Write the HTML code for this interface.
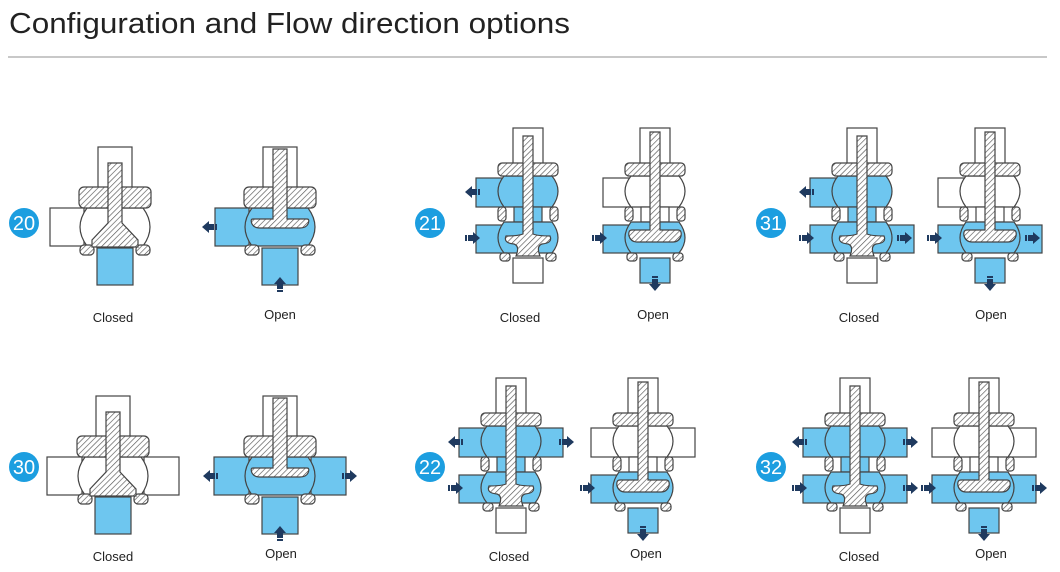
<!DOCTYPE html>
<html><head><meta charset="utf-8"><style>
html,body{margin:0;padding:0;background:#fff;}
svg{display:block;}
.w{fill:#fff;stroke:#444;stroke-width:1.2;}
.b{fill:#6ec6ef;stroke:#444;stroke-width:1.2;}
.h{fill:url(#hat);stroke:#444;stroke-width:1.2;}
.a{fill:#1f3a5f;}
text{font-family:"Liberation Sans",sans-serif;}
</style></head><body>
<svg width="1060" height="572" viewBox="0 0 1060 572" xmlns="http://www.w3.org/2000/svg">
<defs>
<pattern id="hat" width="4" height="4" patternUnits="userSpaceOnUse" patternTransform="rotate(45)">
<rect width="4" height="4" fill="#fff"/><line x1="0" y1="0" x2="0" y2="4" stroke="#555" stroke-width="1.3"/>
</pattern>
<g id="sBody">
<rect class="w" x="-17" y="-80" width="34" height="42"/>
<rect class="h" x="-36" y="-40" width="72" height="21" rx="5"/>
<rect class="h" x="-35" y="18" width="14" height="10" rx="4"/>
<rect class="h" x="21" y="18" width="14" height="10" rx="4"/>
</g>
<path id="sStemC" class="h" d="M-7,-64 h14 V-4 L23,13 v7 h-46 v-7 L-7,-4 Z"/>
<path id="sStemO" class="h" d="M-7,-78 h14 V-8 h20 q3,0 1,5 q-2,4 -8,4 h-40 q-6,0 -8,-4 q-2,-5 1,-5 h20 Z"/>
<g id="dBody">
<rect class="w" x="-15" y="-110" width="30" height="36"/>
<rect class="h" x="-30" y="-75" width="60" height="13" rx="4"/>
<rect class="h" x="-30" y="-31" width="8" height="14" rx="3"/>
<rect class="h" x="22" y="-31" width="8" height="14" rx="3"/>
<rect class="h" x="-28" y="15" width="10" height="8" rx="3"/>
<rect class="h" x="18" y="15" width="10" height="8" rx="3"/>
</g>
<path id="dStemC" class="h" d="M-5,-102 h10 V-4 Q10,-2 22,-2 Q25,5 14,6 Q8,8 12,18 h-24 Q-8,8 -14,6 Q-25,5 -22,-2 Q-10,-2 -5,-4 Z"/>
<path id="dStemO" class="h" d="M-5,-106 h10 V-8 h18 q4,0 3,6 q-2,6 -8,6 h-36 q-6,0 -8,-6 q-1,-6 3,-6 h18 Z"/>
<g id="arr"><polygon class="a" points="0,0 -7,-6 -7,-3 -12,-3 -12,3 -7,3 -7,6"/><rect class="a" x="-15" y="-3" width="2" height="6"/></g>
</defs>

<text x="9" y="33" font-size="29" fill="#222" textLength="561" lengthAdjust="spacingAndGlyphs">Configuration and Flow direction options</text>
<rect x="8" y="56" width="1039" height="2" fill="#c8c8c8"/>

<!-- badges -->
<g font-size="20" fill="#fff" text-anchor="middle">
<circle cx="24" cy="223" r="15" fill="#1c9ee0"/><text x="24" y="230">20</text>
<circle cx="430" cy="223" r="15" fill="#1c9ee0"/><text x="430" y="230">21</text>
<circle cx="771" cy="223" r="15" fill="#1c9ee0"/><text x="771" y="230">31</text>
<circle cx="24" cy="467" r="15" fill="#1c9ee0"/><text x="24" y="474">30</text>
<circle cx="430" cy="467" r="15" fill="#1c9ee0"/><text x="430" y="474">22</text>
<circle cx="771" cy="467" r="15" fill="#1c9ee0"/><text x="771" y="474">32</text>
</g>

<!-- labels -->
<g font-size="13" fill="#222" text-anchor="middle">
<text x="113" y="322">Closed</text><text x="280" y="319">Open</text>
<text x="520" y="322">Closed</text><text x="653" y="319">Open</text>
<text x="859" y="322">Closed</text><text x="991" y="319">Open</text>
<text x="113" y="561">Closed</text><text x="281" y="558">Open</text>
<text x="509" y="561">Closed</text><text x="646" y="558">Open</text>
<text x="859" y="561">Closed</text><text x="991" y="558">Open</text>
</g>

<!-- 20 closed -->
<g transform="translate(115,227)">
<rect class="w" x="-65" y="-19" width="34" height="38"/>
<path class="w" d="M-28,-19 Q-42,0 -28,19 L28,19 Q42,0 28,-19 Z"/>
<rect class="b" x="-18" y="21" width="36" height="37"/>
<use href="#sBody"/><use href="#sStemC"/>
</g>
<!-- 20 open -->
<g transform="translate(280,227)">
<rect class="b" x="-65" y="-19" width="34" height="38"/>
<path class="b" d="M-28,-19 Q-42,0 -28,19 L28,19 Q42,0 28,-19 Z"/>
<rect class="b" x="-18" y="21" width="36" height="37"/>
<use href="#sBody"/><use href="#sStemO"/>
<use href="#arr" transform="translate(-78,0) rotate(180)"/>
<use href="#arr" transform="translate(0,50) rotate(-90)"/>
</g>
<!-- 30 closed -->
<g transform="translate(113,476)">
<rect class="w" x="-66" y="-19" width="35" height="38"/>
<rect class="w" x="31" y="-19" width="35" height="38"/>
<path class="w" d="M-28,-19 Q-42,0 -28,19 L28,19 Q42,0 28,-19 Z"/>
<rect class="b" x="-18" y="21" width="36" height="37"/>
<use href="#sBody"/><use href="#sStemC"/>
</g>
<!-- 30 open -->
<g transform="translate(280,476)">
<rect class="b" x="-66" y="-19" width="35" height="38"/>
<rect class="b" x="31" y="-19" width="35" height="38"/>
<path class="b" d="M-28,-19 Q-42,0 -28,19 L28,19 Q42,0 28,-19 Z"/>
<rect class="b" x="-18" y="21" width="36" height="37"/>
<use href="#sBody"/><use href="#sStemO"/>
<use href="#arr" transform="translate(-77,0) rotate(180)"/>
<use href="#arr" transform="translate(77,0)"/>
<use href="#arr" transform="translate(0,50) rotate(-90)"/>
</g>

<!-- 21 closed -->
<g transform="translate(528,238)">
<rect class="b" x="-52" y="-60" width="28" height="29"/>
<rect class="b" x="-52" y="-13" width="28" height="28"/>
<path class="b" d="M-24,-62 Q-36,-47 -24,-31 L24,-31 Q36,-47 24,-62 Z"/>
<rect class="b" x="-14" y="-31" width="28" height="15"/>
<path class="b" d="M-24,-16 Q-36,0 -24,15 L24,15 Q36,0 24,-16 Z"/>
<rect class="w" x="-15" y="20" width="30" height="25"/>
<use href="#dBody"/><use href="#dStemC"/>
<use href="#arr" transform="translate(-63,-46) rotate(180)"/>
<use href="#arr" transform="translate(-48,0)"/>
</g>
<!-- 21 open -->
<g transform="translate(655,238)">
<rect class="w" x="-52" y="-60" width="28" height="29"/>
<rect class="b" x="-52" y="-13" width="28" height="28"/>
<path class="w" d="M-24,-62 Q-36,-47 -24,-31 L24,-31 Q36,-47 24,-62 Z"/>
<rect class="w" x="-14" y="-31" width="28" height="15"/>
<path class="b" d="M-24,-16 Q-36,0 -24,15 L24,15 Q36,0 24,-16 Z"/>
<rect class="b" x="-15" y="20" width="30" height="25"/>
<use href="#dBody"/><use href="#dStemO"/>
<use href="#arr" transform="translate(-48,0)"/>
<use href="#arr" transform="translate(0,53) rotate(90)"/>
</g>
<!-- 31 closed -->
<g transform="translate(862,238)">
<rect class="b" x="-52" y="-60" width="28" height="29"/>
<rect class="b" x="-52" y="-13" width="28" height="28"/>
<rect class="b" x="24" y="-13" width="28" height="28"/>
<path class="b" d="M-24,-62 Q-36,-47 -24,-31 L24,-31 Q36,-47 24,-62 Z"/>
<rect class="b" x="-14" y="-31" width="28" height="15"/>
<path class="b" d="M-24,-16 Q-36,0 -24,15 L24,15 Q36,0 24,-16 Z"/>
<rect class="w" x="-15" y="20" width="30" height="25"/>
<use href="#dBody"/><use href="#dStemC"/>
<use href="#arr" transform="translate(-63,-46) rotate(180)"/>
<use href="#arr" transform="translate(-48,0)"/>
<use href="#arr" transform="translate(50,0)"/>
</g>
<!-- 31 open -->
<g transform="translate(990,238)">
<rect class="w" x="-52" y="-60" width="28" height="29"/>
<rect class="b" x="-52" y="-13" width="28" height="28"/>
<rect class="b" x="24" y="-13" width="28" height="28"/>
<path class="w" d="M-24,-62 Q-36,-47 -24,-31 L24,-31 Q36,-47 24,-62 Z"/>
<rect class="w" x="-14" y="-31" width="28" height="15"/>
<path class="b" d="M-24,-16 Q-36,0 -24,15 L24,15 Q36,0 24,-16 Z"/>
<rect class="b" x="-15" y="20" width="30" height="25"/>
<use href="#dBody"/><use href="#dStemO"/>
<use href="#arr" transform="translate(-48,0)"/>
<use href="#arr" transform="translate(50,0)"/>
<use href="#arr" transform="translate(0,53) rotate(90)"/>
</g>

<!-- 22 closed -->
<g transform="translate(511,488)">
<rect class="b" x="-52" y="-60" width="28" height="29"/>
<rect class="b" x="24" y="-60" width="28" height="29"/>
<rect class="b" x="-52" y="-13" width="28" height="28"/>
<path class="b" d="M-24,-62 Q-36,-47 -24,-31 L24,-31 Q36,-47 24,-62 Z"/>
<rect class="b" x="-14" y="-31" width="28" height="15"/>
<path class="b" d="M-24,-16 Q-36,0 -24,15 L24,15 Q36,0 24,-16 Z"/>
<rect class="w" x="-15" y="20" width="30" height="25"/>
<use href="#dBody"/><use href="#dStemC"/>
<use href="#arr" transform="translate(-63,-46) rotate(180)"/>
<use href="#arr" transform="translate(63,-46)"/>
<use href="#arr" transform="translate(-48,0)"/>
</g>
<!-- 22 open -->
<g transform="translate(643,488)">
<rect class="w" x="-52" y="-60" width="28" height="29"/>
<rect class="w" x="24" y="-60" width="28" height="29"/>
<rect class="b" x="-52" y="-13" width="28" height="28"/>
<path class="w" d="M-24,-62 Q-36,-47 -24,-31 L24,-31 Q36,-47 24,-62 Z"/>
<rect class="w" x="-14" y="-31" width="28" height="15"/>
<path class="b" d="M-24,-16 Q-36,0 -24,15 L24,15 Q36,0 24,-16 Z"/>
<rect class="b" x="-15" y="20" width="30" height="25"/>
<use href="#dBody"/><use href="#dStemO"/>
<use href="#arr" transform="translate(-48,0)"/>
<use href="#arr" transform="translate(0,53) rotate(90)"/>
</g>
<!-- 32 closed -->
<g transform="translate(855,488)">
<rect class="b" x="-52" y="-60" width="28" height="29"/>
<rect class="b" x="24" y="-60" width="28" height="29"/>
<rect class="b" x="-52" y="-13" width="28" height="28"/>
<rect class="b" x="24" y="-13" width="28" height="28"/>
<path class="b" d="M-24,-62 Q-36,-47 -24,-31 L24,-31 Q36,-47 24,-62 Z"/>
<rect class="b" x="-14" y="-31" width="28" height="15"/>
<path class="b" d="M-24,-16 Q-36,0 -24,15 L24,15 Q36,0 24,-16 Z"/>
<rect class="w" x="-15" y="20" width="30" height="25"/>
<use href="#dBody"/><use href="#dStemC"/>
<use href="#arr" transform="translate(-63,-46) rotate(180)"/>
<use href="#arr" transform="translate(63,-46)"/>
<use href="#arr" transform="translate(-48,0)"/>
<use href="#arr" transform="translate(63,0)"/>
</g>
<!-- 32 open -->
<g transform="translate(984,488)">
<rect class="w" x="-52" y="-60" width="28" height="29"/>
<rect class="w" x="24" y="-60" width="28" height="29"/>
<rect class="b" x="-52" y="-13" width="28" height="28"/>
<rect class="b" x="24" y="-13" width="28" height="28"/>
<path class="w" d="M-24,-62 Q-36,-47 -24,-31 L24,-31 Q36,-47 24,-62 Z"/>
<rect class="w" x="-14" y="-31" width="28" height="15"/>
<path class="b" d="M-24,-16 Q-36,0 -24,15 L24,15 Q36,0 24,-16 Z"/>
<rect class="b" x="-15" y="20" width="30" height="25"/>
<use href="#dBody"/><use href="#dStemO"/>
<use href="#arr" transform="translate(-48,0)"/>
<use href="#arr" transform="translate(63,0)"/>
<use href="#arr" transform="translate(0,53) rotate(90)"/>
</g>
</svg>
</body></html>
